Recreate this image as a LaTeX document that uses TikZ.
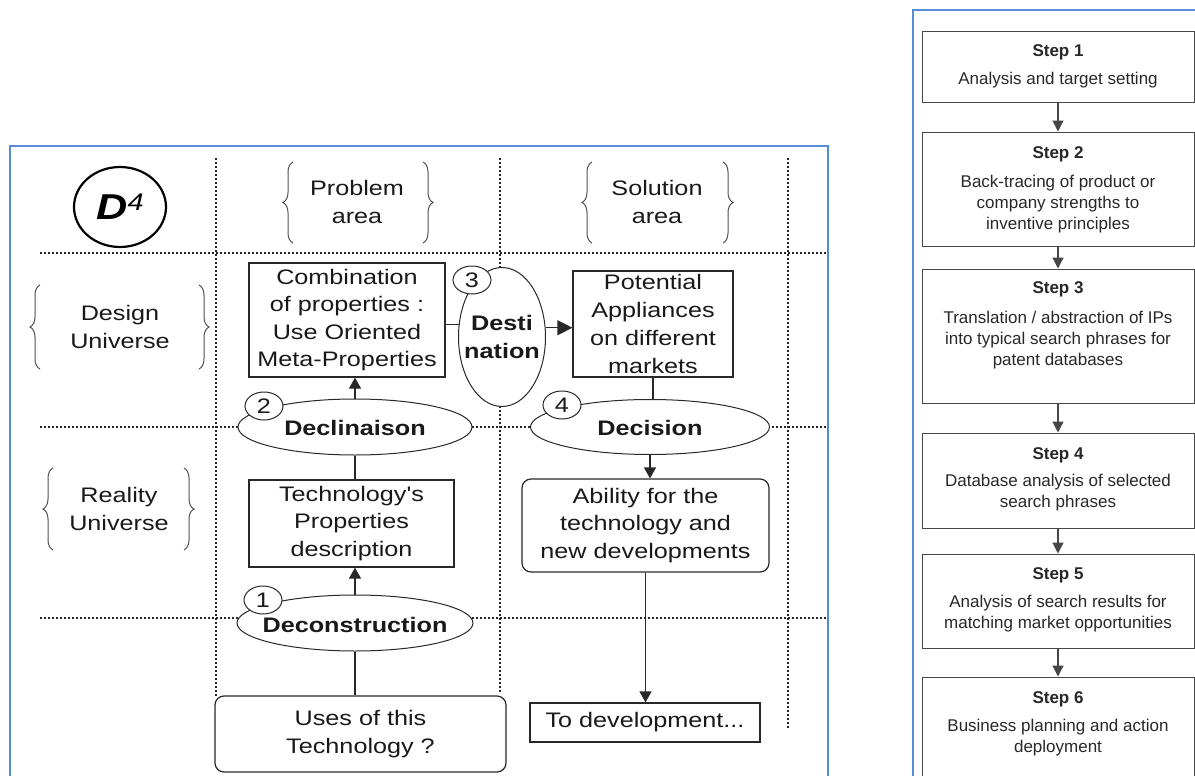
\documentclass[tikz,border=0pt]{standalone}
\usepackage{fontspec}
\setmainfont{Liberation Sans}
\newfontfamily\lf[FakeStretch=1.2]{Liberation Sans}
\usetikzlibrary{shapes.geometric,arrows.meta,decorations.pathreplacing}
\definecolor{panel}{RGB}{86,141,214}
\definecolor{ln}{RGB}{40,40,40}
\definecolor{txt}{RGB}{25,25,25}
\definecolor{sln}{RGB}{70,70,70}
\definecolor{stxt}{RGB}{40,40,40}
\definecolor{brc}{RGB}{80,80,80}
\begin{document}
\begin{tikzpicture}[x=1pt,y=-1pt,
  lbase/.style={font=\lf\fontsize{21}{27.5}\selectfont, text=txt, align=center, inner sep=0pt},
  lbox/.style={lbase, draw=ln, line width=1.2pt, fill=white, rectangle},
  rbox/.style={lbox, rounded corners=9pt},
  oval/.style={draw=ln, line width=1pt, fill=white, ellipse, inner sep=0pt},
  ovaltext/.style={lbase, font=\lf\bfseries\fontsize{21}{27.5}\selectfont},
  num/.style={lbase, draw=ln, line width=1pt, fill=white, ellipse, minimum width=38, minimum height=28},
  arr/.style={draw=ln, line width=1.2pt, -{Triangle[length=11pt,width=12pt]}},
  bigarr/.style={draw=ln, line width=1.2pt, -{Triangle[length=15pt,width=15pt]}},
  con/.style={draw=ln, line width=1.2pt},
  dotl/.style={draw=black!85, line width=2pt, dash pattern=on 1.6pt off 2.4pt},
  brace/.style={decorate, decoration={brace, amplitude=10pt}, draw=brc, line width=1pt},
  sbox/.style={draw=sln, line width=1pt, fill=white, rectangle, minimum width=272, inner sep=0pt},
  stitle/.style={font=\bfseries\fontsize{17}{21}\selectfont, text=stxt, inner sep=0pt},
  sbody/.style={font=\fontsize{17}{21}\selectfont, text=stxt, align=center, inner sep=0pt},
  sarr/.style={draw=sln, line width=1.2pt, -{Triangle[length=11pt,width=11pt]}}
]
\useasboundingbox (0,0) rectangle (1195,776);
\clip (0,0) rectangle (1195,776);
\fill[white] (0,0) rectangle (1195,776);

% ---------------- left panel ----------------
\draw[panel, line width=1.5pt] (10,146) rectangle (828,800);

% dotted grid
\draw[dotl] (216,158) -- (216,696);
\draw[dotl] (500,158) -- (500,693);
\draw[dotl] (788,158) -- (788,728);
\draw[dotl] (40,253) -- (828,253);
\draw[dotl] (40,427) -- (828,427);
\draw[dotl] (40,618) -- (828,618);

% D4
\node[ellipse, draw=black, line width=2.2pt, minimum width=92, minimum height=80, inner sep=0pt, text=black]
  (dfour) at (120,207) {\lf{\fontsize{36}{36}\selectfont\bfseries\itshape D}\raisebox{9pt}{\fontsize{24}{24}\selectfont\itshape 4}};

% headings with braces
\node[lbase] (prob) at (357,202) {Problem\\area};
\draw[brace] (293,243) -- (293,162);
\draw[brace] (423,162) -- (423,243);
\node[lbase] (sol) at (657,202) {Solution\\area};
\draw[brace] (592,243) -- (592,162);
\draw[brace] (723,162) -- (723,243);
\node[lbase] (design) at (120,327) {Design\\Universe};
\draw[brace] (40,369) -- (40,285);
\draw[brace] (199,285) -- (199,369);
\node[lbase] (reality) at (119,509) {Reality\\Universe};
\draw[brace] (53,550) -- (53,468);
\draw[brace] (184,468) -- (184,550);

% boxes
\node[lbox, minimum width=196, minimum height=114] (comb) at (347,320)
  {Combination\\of properties :\\Use Oriented\\Meta-Properties};
\node[oval, minimum width=87, minimum height=139] (dest) at (502,337) {};
\node[ovaltext] (desttxt) at (dest) {Desti\\nation};
\node[lbox, minimum width=160, minimum height=106, font=\lf\fontsize{21}{28}\selectfont] (pot) at (653,324)
  {Potential\\Appliances\\on different\\markets};
\node[oval, minimum width=234, minimum height=56] (decl) at (355,427) {};
\node[ovaltext] (decltxt) at (355,428) {Declinaison};
\node[oval, minimum width=239, minimum height=55] (dec) at (650,427) {};
\node[ovaltext] (dectxt) at (650,428) {Decision};
\node[lbox, minimum width=205, minimum height=87] (tech) at (351.5,523.5)
  {Technology's\\Properties\\description};
\node[rbox, minimum width=247, minimum height=93] (abil) at (645.5,525.5)
  {Ability for the\\technology and\\new developments};
\node[oval, minimum width=236, minimum height=56] (decon) at (355,623) {};
\node[ovaltext] (decontxt) at (355,625) {Deconstruction};
\node[rbox, minimum width=291, minimum height=76] (uses) at (360.5,734) {Uses of this\\Technology ?};
\node[lbox, minimum width=230, minimum height=39] (todev) at (645,722.5) {To development...};

% number tags
\node[num] (n2) at (264,406) {2};
\node[num] (n3) at (472,280) {3};
\node[num] (n4) at (562,405) {4};
\node[num] (n1) at (263,600) {1};

% connectors
\draw[arr] (decl.north) -- (decl.north |- comb.south);
\draw[con] (decl.south) -- (decl.south |- tech.north);
\draw[arr] (decon.north) -- (decon.north |- tech.south);
\draw[con] (decon.south) -- (decon.south |- uses.north);
\draw[con] (dest.164) -- (dest.164 -| comb.east);
\draw[bigarr] (dest.12) -- (dest.12 -| pot.west);
\draw[con] (pot.south) -- (pot.south |- dec.north);
\draw[arr] (dec.south) -- (dec.south |- abil.north);
\draw[arr] (abil.south) -- (abil.south |- todev.north);

% ---------------- right panel ----------------
\draw[panel, line width=1.5pt] (913,10) rectangle (1220,800);

\node[sbox, minimum height=71] (s1) at (1058,67.5) {};
\node[sbox, minimum height=114] (s2) at (1058,189) {};
\node[sbox, minimum height=134] (s3) at (1058,336) {};
\node[sbox, minimum height=95] (s4) at (1058,480.5) {};
\node[sbox, minimum height=94] (s5) at (1058,601) {};
\node[sbox, minimum height=113] (s6) at (1058,733.5) {};

\node[stitle] (t1) at (1058,52) {Step 1};
\node[sbody] (b1) at (1058,80) {Analysis and target setting};
\node[stitle] (t2) at (1058,154) {Step 2};
\node[sbody] (b2) at (1058,204) {Back-tracing of product or\\company strengths to\\inventive principles};
\node[stitle] (t3) at (1058,289) {Step 3};
\node[sbody] (b3) at (1058,340.5) {Translation / abstraction of IPs\\into typical search phrases for\\patent databases};
\node[stitle] (t4) at (1058,455) {Step 4};
\node[sbody] (b4) at (1058,493) {Database analysis of selected\\search phrases};
\node[stitle] (t5) at (1058,575) {Step 5};
\node[sbody] (b5) at (1058,614) {Analysis of search results for\\matching market opportunities};
\node[stitle] (t6) at (1058,699) {Step 6};
\node[sbody] (b6) at (1058,738) {Business planning and action\\deployment};

\draw[sarr] (s1.south) -- (s2.north);
\draw[sarr] (s2.south) -- (s3.north);
\draw[sarr] (s3.south) -- (s4.north);
\draw[sarr] (s4.south) -- (s5.north);
\draw[sarr] (s5.south) -- (s6.north);
\end{tikzpicture}
\end{document}
